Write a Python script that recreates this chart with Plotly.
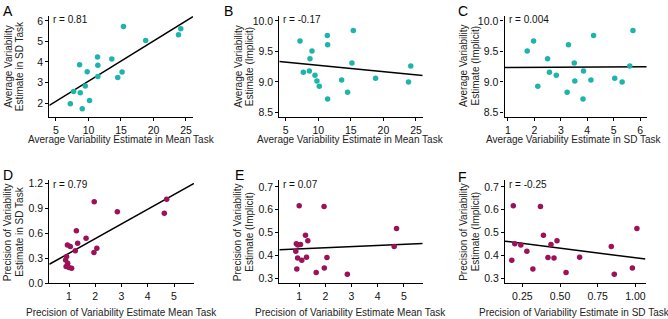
import numpy as np
import plotly.graph_objects as go

# ---------------- data ----------------
# top row: average variability estimates (one value per participant)
avg_mean_task = [15.38, 24.2, 23.85, 18.8, 11.39, 13.59, 8.63, 11.44, 9.8,
                 15.17, 11.44, 14.5, 9.5, 7.71, 8.73, 10.16, 7.2, 9.04]
avg_sd_task = [5.73, 5.61, 5.32, 5.04, 4.24, 4.14, 3.86, 3.84, 3.53,
               3.51, 3.29, 3.24, 2.83, 2.57, 2.50, 2.13, 1.97, 1.73]
avg_implicit = [9.84, 9.26, 9.0, 9.06, 9.76, 9.03, 9.18, 8.72, 9.016,
                9.31, 9.61, 8.83, 9.11, 9.16, 9.38, 8.93, 9.67, 9.505]

# bottom row: precision of variability estimates
prec_mean_task = [4.72, 4.63, 2.84, 1.96, 1.95, 2.06, 1.65, 1.33, 1.28,
                  1.24, 1.10, 1.05, 0.94, 0.91, 0.87, 0.95, 0.89, 1.0]
prec_sd_task = [1.01, 0.84, 0.86, 0.98, 0.37, 0.42, 0.54, 0.48, 0.63,
                0.39, 0.18, 0.44, 0.46, 0.32, 0.28, 0.24, 0.20, 0.19]
prec_implicit = [0.518, 0.439, 0.318, 0.345, 0.615, 0.391, 0.325, 0.465, 0.392,
                 0.489, 0.379, 0.448, 0.389, 0.341, 0.419, 0.446, 0.451, 0.618]

r_labels = ["r = 0.81", "r = -0.17", "r = 0.004", "r = 0.79", "r = 0.07", "r = -0.25"]
panel_letters = ["A", "B", "C", "D", "E", "F"]

x_titles = ["Average Variability Estimate in Mean Task",
            "Average Variability Estimate in Mean Task",
            "Average Variability Estimate in SD Task",
            "Precision of Variability Estimate Mean Task",
            "Precision of Variability Estimate Mean Task",
            "Precision of Variability Estimate in SD Task"]
y_titles = [("Average Variability", "Estimate in SD Task"),
            ("Average Variability", "Estimate (Implicit)"),
            ("Average Variability", "Estimate (Implicit)"),
            ("Precision of Variability", "Estimate in SD Task"),
            ("Precision of Variability", "Estimate (Implicit)"),
            ("Precision of Variability", "Estimate (Implicit)")]

x_ticks_avg_mean = [5, 10, 15, 20, 25]
x_ticks_avg_sd = [1, 2, 3, 4, 5, 6]
y_ticks_avg_sd = [2, 3, 4, 5, 6]
y_ticks_impl = [8.5, 9.0, 9.5, 10.0]
y_ticklabels_impl = ["8.5", "9.0", "9.5", "10.0"]
x_ticks_prec_mean = [1, 2, 3, 4, 5]
y_ticks_prec_sd = [0.0, 0.3, 0.6, 0.9, 1.2]
y_ticklabels_prec_sd = ["0.0", "0.3", "0.6", "0.9", "1.2"]
y_ticks_prec_impl = [0.3, 0.4, 0.5, 0.6, 0.7]
y_ticklabels_prec_impl = ["0.3", "0.4", "0.5", "0.6", "0.7"]
x_ticks_prec_sd = [0.25, 0.50, 0.75, 1.00]
x_ticklabels_prec_sd = ["0.25", "0.50", "0.75", "1.00"]

TEAL = "#1db5ab"
MAROON = "#9c1158"

W, H = 668, 319

# panel geometry (pixels)
panels = [
    dict(x=avg_mean_task, y=avg_sd_task, col=TEAL, px=(49.3, 193.0), py=(13.3, 117.3),
         xr=[3.97, 26.08], yr=[1.325, 6.24],
         xt=x_ticks_avg_mean, xtl=None, yt=y_ticks_avg_sd, ytl=None),
    dict(x=avg_mean_task, y=avg_implicit, col=TEAL, px=(279.3, 422.7), py=(13.3, 117.3),
         xr=[4.02, 26.03], yr=[8.427, 10.08],
         xt=x_ticks_avg_mean, xtl=None, yt=y_ticks_impl, ytl=y_ticklabels_impl),
    dict(x=avg_sd_task, y=avg_implicit, col=TEAL, px=(504.5, 646.7), py=(13.3, 117.3),
         xr=[0.87, 6.25], yr=[8.427, 10.08],
         xt=x_ticks_avg_sd, xtl=None, yt=y_ticks_impl, ytl=y_ticklabels_impl),
    dict(x=prec_mean_task, y=prec_sd_task, col=MAROON, px=(49.3, 194.0), py=(182.5, 288.5),
         xr=[0.25, 5.76], yr=[-0.002, 1.237],
         xt=x_ticks_prec_mean, xtl=None, yt=y_ticks_prec_sd, ytl=y_ticklabels_prec_sd),
    dict(x=prec_mean_task, y=prec_implicit, col=MAROON, px=(279.3, 422.7), py=(182.5, 288.5),
         xr=[0.24, 5.72], yr=[0.278, 0.729],
         xt=x_ticks_prec_mean, xtl=None, yt=y_ticks_prec_impl, ytl=y_ticklabels_prec_impl),
    dict(x=prec_sd_task, y=prec_implicit, col=MAROON, px=(505.0, 645.5), py=(182.5, 288.5),
         xr=[0.135, 1.067], yr=[0.278, 0.729],
         xt=x_ticks_prec_sd, xtl=x_ticklabels_prec_sd, yt=y_ticks_prec_impl, ytl=y_ticklabels_prec_impl),
]

# centre of each x-axis title, pixels from the top
x_title_y = [141, 141, 141, 313.5, 313.5, 313.5]
x_title_x = [121, 351, 574, 121, 351, 574]

FONT = "Liberation Sans, Arial, Helvetica, sans-serif"
fig = go.Figure()
annotations = []
layout_axes = {}

for i, p in enumerate(panels):
    n = "" if i == 0 else str(i + 1)
    xa, ya = "x" + n, "y" + n
    # regression line
    slope, icpt = np.polyfit(p["x"], p["y"], 1)
    lx = np.array(p["xr"])
    fig.add_trace(go.Scatter(x=lx, y=slope * lx + icpt, mode="lines",
                             line=dict(color="black", width=1.5),
                             xaxis=xa, yaxis=ya, showlegend=False, hoverinfo="skip"))
    fig.add_trace(go.Scatter(x=p["x"], y=p["y"], mode="markers",
                             marker=dict(color=p["col"], size=5.5, line=dict(width=0)),
                             xaxis=xa, yaxis=ya, showlegend=False))
    x0, x1 = p["px"]
    y0, y1 = p["py"]
    common = dict(showgrid=False, zeroline=False, showline=True, linecolor="black",
                  linewidth=1.2, ticks="outside", ticklen=3, tickwidth=1, tickcolor="black",
                  tickfont=dict(family=FONT, size=10.5, color="#111111"), fixedrange=True)
    xd = dict(domain=[x0 / W, x1 / W], range=p["xr"], anchor=ya,
              tickmode="array", tickvals=p["xt"], **common)
    if p["xtl"]:
        xd["ticktext"] = p["xtl"]
    yd = dict(domain=[1 - y1 / H, 1 - y0 / H], range=p["yr"], anchor=xa,
              tickmode="array", tickvals=p["yt"], **common)
    if p["ytl"]:
        yd["ticktext"] = p["ytl"]
    layout_axes["xaxis" + n] = xd
    layout_axes["yaxis" + n] = yd

    # r label
    annotations.append(dict(x=(x0 + 2) / W, y=1 - (y0 + 4) / H, xref="paper", yref="paper",
                            text=r_labels[i], showarrow=False, xanchor="left", yanchor="middle",
                            font=dict(family=FONT, size=10, color="#111111")))
    # x title
    annotations.append(dict(x=x_title_x[i] / W, y=0.5, xref="paper", yref="paper",
                            yshift=H / 2 - x_title_y[i],
                            text=x_titles[i], showarrow=False, xanchor="center", yanchor="middle",
                            font=dict(family=FONT, size=10, color="#222222")))
    # y title (two lines)
    l1, l2 = y_titles[i]
    ym = 1 - (y0 + y1) / 2 / H
    annotations.append(dict(x=(x0 - 41) / W, y=ym, xref="paper", yref="paper",
                            text=l1, showarrow=False, textangle=-90, xanchor="center", yanchor="middle",
                            font=dict(family=FONT, size=10, color="#222222")))
    annotations.append(dict(x=(x0 - 29.5) / W, y=ym, xref="paper", yref="paper",
                            text=l2, showarrow=False, textangle=-90, xanchor="center", yanchor="middle",
                            font=dict(family=FONT, size=10, color="#222222")))

# panel letters
letter_pos = [(0.5, 8), (221.5, 8.5), (456, 8.5), (0.5, 177.5), (232.5, 177.5), (456, 179)]
for (lxp, lyp), L in zip(letter_pos, panel_letters):
    annotations.append(dict(x=lxp / W, y=1 - lyp / H, xref="paper", yref="paper", text=L,
                            showarrow=False, xanchor="left", yanchor="middle",
                            font=dict(family=FONT, size=14, color="black")))

fig.update_layout(width=W, height=H, margin=dict(l=0, r=0, t=0, b=0),
                  paper_bgcolor="white", plot_bgcolor="white",
                  annotations=annotations, **layout_axes)
fig.write_html("out.html", config={"displayModeBar": False},
               post_script="document.body.style.margin='0';document.body.style.overflow='hidden';")
